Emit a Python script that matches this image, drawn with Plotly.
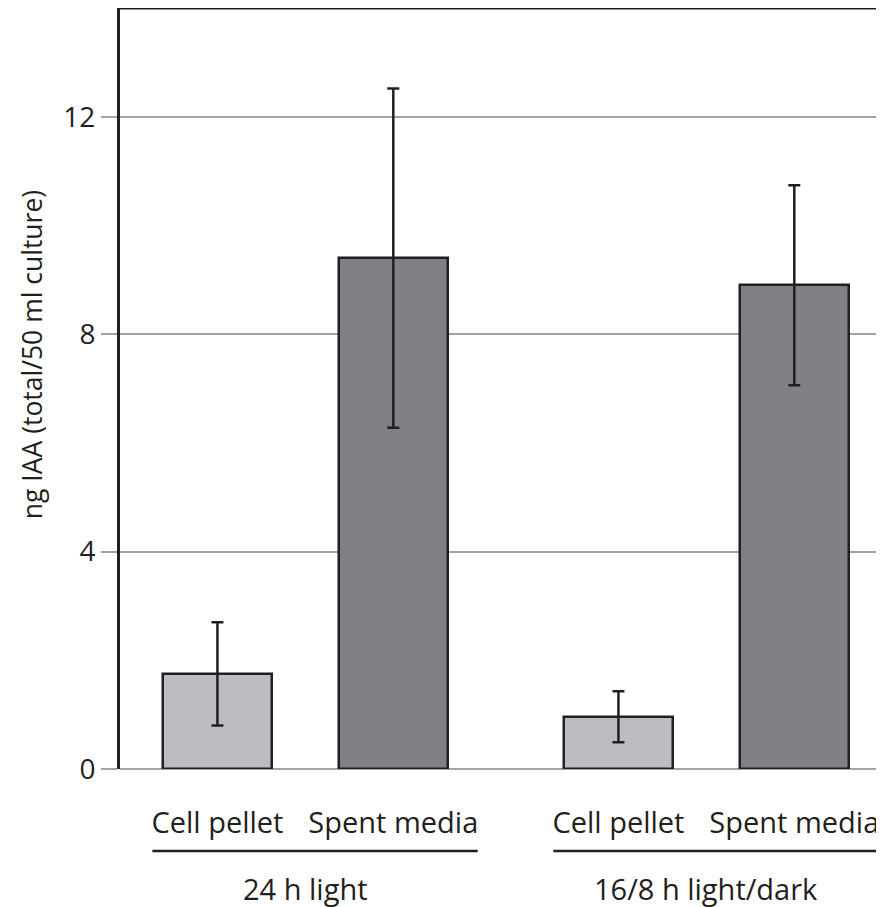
import plotly.graph_objects as go

# ---- data ----
groups = ["24 h light", "16/8 h light/dark"]
fractions = ["Cell pellet", "Spent media"]
values = {
    "Cell pellet": [1.75, 0.96],
    "Spent media": [9.4, 8.9],
}
errors = {
    "Cell pellet": [0.95, 0.47],
    "Spent media": [3.12, 1.84],
}
y_ticks = [0, 4, 8, 12]
y_title = "ng IAA (total/50 ml culture)"

# ---- layout parameters ----
group_gap = 2.28
bar_width = 0.62
colors = {"Cell pellet": "#bcbdc0", "Spent media": "#808184"}
ink = "#231f20"
font_family = "Open Sans"

fig = go.Figure()
tickvals, ticktext = [], []
for j, frac in enumerate(fractions):
    xs = [g * group_gap + j for g in range(len(groups))]
    tickvals += xs
    ticktext += [frac] * len(groups)
    fig.add_trace(go.Bar(
        x=xs, y=values[frac], width=bar_width,
        marker=dict(color=colors[frac], line=dict(color=ink, width=2.5)),
        error_y=dict(type="data", array=errors[frac], color=ink,
                     thickness=2.5, width=6),
        showlegend=False, name=frac,
    ))

shapes = []
annotations = []
for g, name in enumerate(groups):
    base = g * group_gap
    shapes.append(dict(type="line", xref="x", yref="paper",
                       x0=base - 0.37, x1=base + 1.48, y0=-0.1078, y1=-0.1078,
                       line=dict(color=ink, width=2.5)))
    annotations.append(dict(text=name, xref="x", yref="paper",
                            x=base + 0.5, y=-0.157, yanchor="middle",
                            showarrow=False,
                            font=dict(size=29, color=ink, family=font_family)))
# y-axis title (placed as rotated annotation to match reference position)
annotations.append(dict(text=y_title, xref="paper", yref="paper",
                        x=-0.115, y=0.544, xanchor="center", yanchor="middle",
                        textangle=-90, showarrow=False,
                        font=dict(size=26.5, color=ink, family=font_family)))
# top frame line
shapes.append(dict(type="line", xref="paper", yref="paper",
                   x0=0, x1=1, y0=1, y1=1, line=dict(color=ink, width=3)))

fig.update_layout(
    width=876, height=899,
    margin=dict(l=112, r=0, t=0, b=138),
    paper_bgcolor="white", plot_bgcolor="white",
    font=dict(family=font_family, size=28, color=ink),
    shapes=shapes, annotations=annotations,
    bargap=0,
)
fig.update_xaxes(
    range=[-0.554, 3.79],
    tickvals=tickvals, ticktext=ticktext,
    ticks="", showgrid=False, zeroline=False, showline=False,
    ticklabelstandoff=34,
    tickfont=dict(size=29, color=ink, family=font_family),
)
fig.update_yaxes(
    range=[0, 14], tickvals=y_ticks,
    showgrid=True, gridcolor="#a3a3a3", gridwidth=2,
    zeroline=True, zerolinecolor="#a3a3a3", zerolinewidth=2,
    showline=True, linecolor=ink, linewidth=3,
    ticks="outside", ticklen=16, tickwidth=2, tickcolor="#a3a3a3",
    ticklabelstandoff=0,
    tickfont=dict(size=28, color=ink, family=font_family),
)

fig.write_html("out.html")
